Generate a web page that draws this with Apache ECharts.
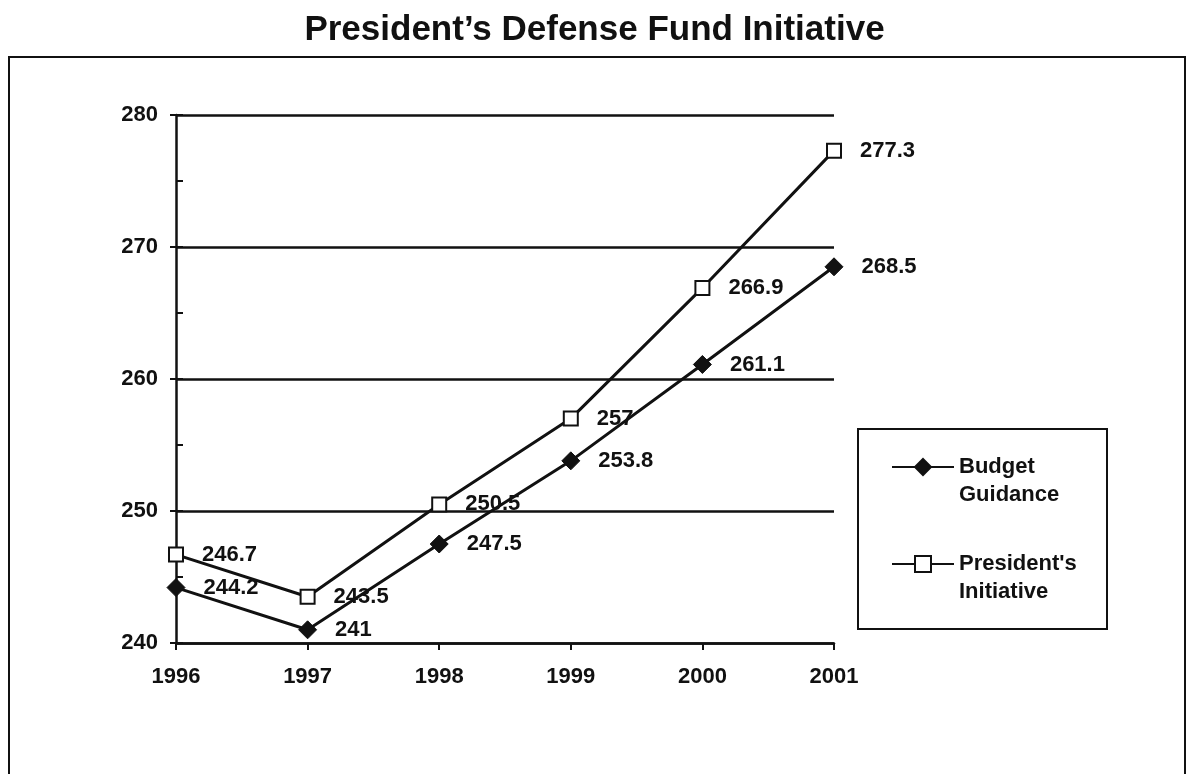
<!DOCTYPE html>
<html>
<head>
<meta charset="utf-8">
<script src="https://cdn.jsdelivr.net/npm/echarts@6/dist/echarts.min.js"></script>
<style>
html,body{margin:0;padding:0;background:#fff;}
#chart{width:1189px;height:774px;}
</style>
</head>
<body>
<div id="chart"></div>
<script>
const years = ['1996', '1997', '1998', '1999', '2000', '2001'];
const budgetGuidance = [244.2, 241, 247.5, 253.8, 261.1, 268.5];
const presidentsInitiative = [246.7, 243.5, 250.5, 257, 266.9, 277.3];
const seriesNames = ['Budget Guidance', "President's Initiative"];
const legendLabels = ['Budget\nGuidance', "President's\nInitiative"];
const titleText = 'President\u2019s Defense Fund Initiative';

const FONT = "'Liberation Sans', Arial, sans-serif";
const INK = '#111';

const chart = echarts.init(document.getElementById('chart'), null, {renderer: 'canvas'});

const labelStyle = {
  show: true,
  position: 'right',
  distance: 18,
  color: INK,
  fontFamily: FONT,
  fontWeight: 'bold',
  fontSize: 22
};

function legendFor(i, top) {
  return {
    data: [seriesNames[i]],
    left: 886,
    top: top,
    orient: 'vertical',
    itemWidth: 62,
    itemHeight: 20,
    selectedMode: false,
    // leading blank line keeps the first text line level with the icon
    formatter: (name) => '\n' + legendLabels[seriesNames.indexOf(name)],
    textStyle: {
      color: INK,
      fontFamily: FONT,
      fontWeight: 'bold',
      fontSize: 22,
      lineHeight: 28
    }
  };
}

const option = {
  backgroundColor: '#fff',
  animation: false,
  title: {
    text: titleText,
    left: 'center',
    top: 8,
    textStyle: {
      color: INK,
      fontFamily: FONT,
      fontWeight: 'bold',
      fontSize: 35
    }
  },
  graphic: [
    {
      type: 'rect',
      shape: {x: 9, y: 57, width: 1176, height: 760},
      style: {fill: 'none', stroke: INK, lineWidth: 2},
      silent: true
    },
    {
      type: 'rect',
      shape: {x: 858, y: 429, width: 249, height: 200},
      style: {fill: 'none', stroke: INK, lineWidth: 2},
      silent: true
    }
  ],
  legend: [legendFor(0, 420), legendFor(1, 517)],
  grid: {left: 176, right: 355, top: 115, bottom: 131, containLabel: false},
  xAxis: {
    type: 'category',
    data: years,
    boundaryGap: false,
    axisLine: {lineStyle: {color: INK, width: 2.5}},
    axisTick: {show: true, length: 7, lineStyle: {color: INK, width: 2}},
    axisLabel: {
      margin: 23,
      color: INK,
      fontFamily: FONT,
      fontWeight: 'bold',
      fontSize: 22
    },
    splitLine: {show: false}
  },
  yAxis: [
    {
      type: 'value',
      min: 240,
      max: 280,
      interval: 10,
      position: 'left',
      axisLine: {show: true, lineStyle: {color: INK, width: 2.5}},
      axisTick: {show: true, length: 6, lineStyle: {color: INK, width: 2}},
      axisLabel: {
        margin: 18,
        color: INK,
        fontFamily: FONT,
        fontWeight: 'bold',
        fontSize: 22
      },
      splitLine: {show: true, lineStyle: {color: INK, width: 2.5}}
    },
    {
      type: 'value',
      min: 240,
      max: 280,
      interval: 5,
      position: 'left',
      axisLine: {show: false},
      axisTick: {show: true, inside: true, length: 7, lineStyle: {color: INK, width: 2}},
      axisLabel: {show: false},
      splitLine: {show: false}
    }
  ],
  series: [
    {
      name: seriesNames[0],
      type: 'line',
      data: budgetGuidance,
      symbol: 'diamond',
      symbolSize: 18,
      lineStyle: {color: INK, width: 3},
      itemStyle: {color: INK, borderColor: INK, borderWidth: 1},
      label: labelStyle,
      z: 3
    },
    {
      name: seriesNames[1],
      type: 'line',
      data: presidentsInitiative,
      symbol: 'rect',
      symbolSize: 14,
      lineStyle: {color: INK, width: 3},
      itemStyle: {color: '#fff', borderColor: INK, borderWidth: 2},
      label: labelStyle,
      z: 3
    }
  ]
};

chart.setOption(option);
</script>
</body>
</html>
